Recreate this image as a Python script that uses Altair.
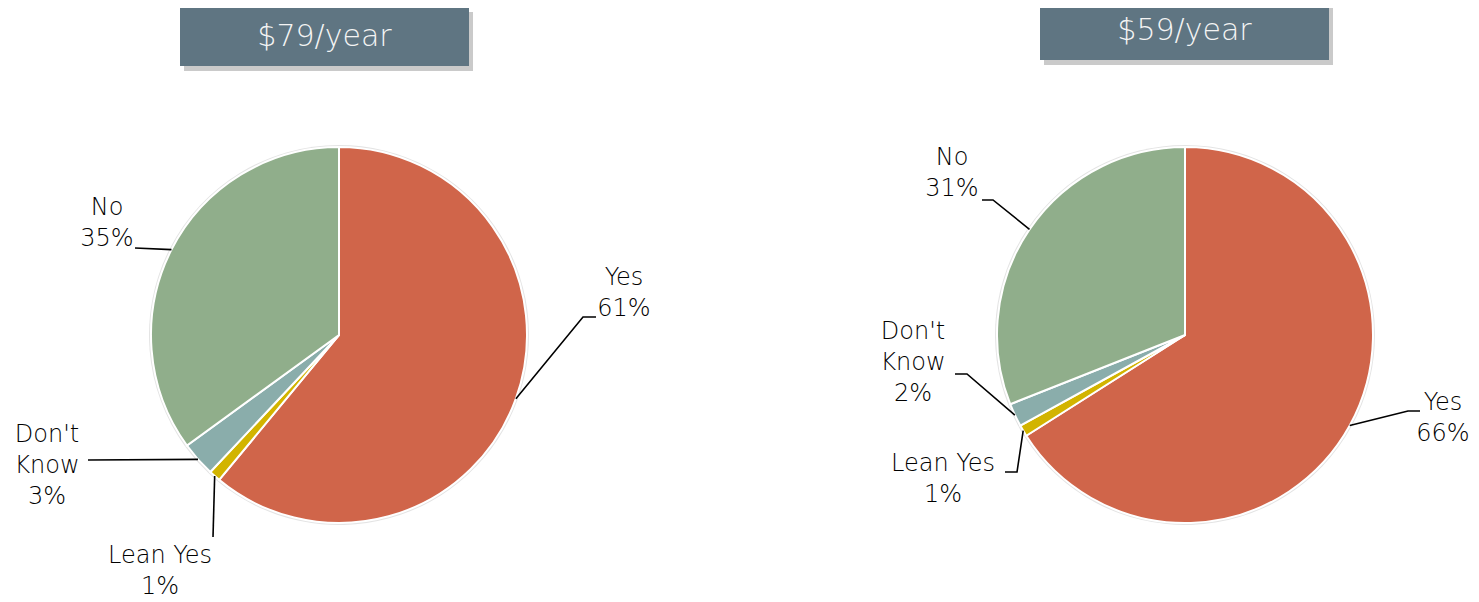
import math
import altair as alt
import pandas as pd

# ---------------- data ----------------
categories = ["Yes", "Lean Yes", "Don't Know", "No"]
pct_79 = [61, 1, 3, 35]
pct_59 = [66, 1, 2, 31]
titles = ["$79/year", "$59/year"]
colors = ["#d0654a", "#d2b400", "#8aadab", "#90ae8b"]

# ---------------- layout (page pixel space) ----------------
W, H = 1463, 594
FONT = "DejaVu Sans"
pies = [
    {"title": titles[0], "pct": pct_79, "cx": 339, "cy": 335, "r": 188,
     "box": (180, 469, 7, 66)},
    {"title": titles[1], "pct": pct_59, "cx": 1185, "cy": 335, "r": 188,
     "box": (1040, 1329, 2, 60)},
]
# label block: (x centre, y of first line); leader bends after the slice anchor
label_pos = [
    {"Yes": (624, 278), "Lean Yes": (160, 556), "Don't Know": (47, 435), "No": (107, 208)},
    {"Yes": (1443, 403), "Lean Yes": (943, 464), "Don't Know": (913, 332), "No": (952, 158)},
]
leader_bends = [
    {"Yes": [(583, 317), (596, 317)], "Lean Yes": [(213, 537)],
     "Don't Know": [(88, 460)], "No": [(135, 248)]},
    {"Yes": [(1408, 411), (1420, 411)], "Lean Yes": [(1017, 472), (1005, 472)],
     "Don't Know": [(967, 374), (955, 374)], "No": [(993, 200), (982, 200)]},
]
LINE_H = 31

slices, labels, leaders, boxes = [], [], [], []
for pi, p in enumerate(pies):
    cum = 0
    for cat, v in zip(categories, p["pct"]):
        t0, t1 = cum, cum + v
        cum = t1
        slices.append({"pie": pi, "category": cat, "pct": v, "t0": t0, "t1": t1,
                       "cx": p["cx"], "cy": p["cy"]})
        mid = (t0 + t1) / 2 / 100 * 2 * math.pi
        ax = p["cx"] + p["r"] * math.sin(mid)
        ay = p["cy"] - p["r"] * math.cos(mid)
        pts = [(ax, ay)] + leader_bends[pi][cat]
        for k, (x, y) in enumerate(pts):
            leaders.append({"key": f"{pi}-{cat}", "k": k, "x": x, "y": y})
        words = ["Don't", "Know"] if cat == "Don't Know" else [cat]
        lines = words + [f"{v}%"]
        lx, ly = label_pos[pi][cat]
        for j, t in enumerate(lines):
            labels.append({"text": t, "x": lx, "y": ly + j * LINE_H})
    x0, x1, y0, y1 = p["box"]
    boxes.append({"x0": x0, "x1": x1, "y0": y0, "y1": y1,
                  "tx": (x0 + x1) / 2, "ty": (y0 + y1) / 2, "title": p["title"]})

sl = pd.DataFrame(slices)
lb = pd.DataFrame(labels)
ld = pd.DataFrame(leaders)
bx = pd.DataFrame(boxes)
bx_sh = bx.assign(x0=bx.x0 + 4, x1=bx.x1 + 4, y0=bx.y0 + 5, y1=bx.y1 + 5)

xs = alt.Scale(domain=[8, 8 + W], nice=False, zero=False)
ys = alt.Scale(domain=[8, 8 + H], nice=False, zero=False, reverse=True)
X = lambda f: alt.X(f, scale=xs, axis=None)
Y = lambda f: alt.Y(f, scale=ys, axis=None)
th_scale = alt.Scale(domain=[0, 100], range=[0, 2 * math.pi])

halo = alt.Chart(sl).mark_arc(outerRadius=190, color="#e4e4e4").encode(
    x=X("cx:Q"), y=Y("cy:Q"),
    theta=alt.Theta("t0:Q", scale=th_scale, stack=None), theta2="t1:Q",
)
arcs = alt.Chart(sl).mark_arc(outerRadius=188, stroke="white", strokeWidth=2).encode(
    x=X("cx:Q"), y=Y("cy:Q"),
    theta=alt.Theta("t0:Q", scale=th_scale, stack=None), theta2="t1:Q",
    color=alt.Color("category:N", scale=alt.Scale(domain=categories, range=colors), legend=None),
)
lines = alt.Chart(ld).mark_line(color="black", strokeWidth=1.6).encode(
    x=X("x:Q"), y=Y("y:Q"), detail="key:N", order="k:Q",
)
texts = alt.Chart(lb).mark_text(font=FONT, fontSize=24, fontWeight=200, color="#000000",
                                align="center", baseline="middle").encode(
    x=X("x:Q"), y=Y("y:Q"), text="text:N",
)
shadow = alt.Chart(bx_sh).mark_rect(color="#bdbdbd", opacity=0.8).encode(
    x=X("x0:Q"), x2="x1:Q", y=Y("y0:Q"), y2="y1:Q",
)
box = alt.Chart(bx).mark_rect(color="#5f7582").encode(
    x=X("x0:Q"), x2="x1:Q", y=Y("y0:Q"), y2="y1:Q",
)
box_text = alt.Chart(bx).mark_text(font=FONT, fontSize=30, fontWeight=200, color="#f4f4f4",
                                   align="center", baseline="middle").encode(
    x=X("tx:Q"), y=Y("ty:Q"), text="title:N",
)

chart = alt.layer(halo, arcs, lines, texts, shadow, box, box_text).properties(
    width=W, height=H, autosize=alt.AutoSizeParams(type="none"), padding=0,
).configure_view(stroke=None)

chart.save("out.html", embed_options={"renderer": "svg", "actions": False})
